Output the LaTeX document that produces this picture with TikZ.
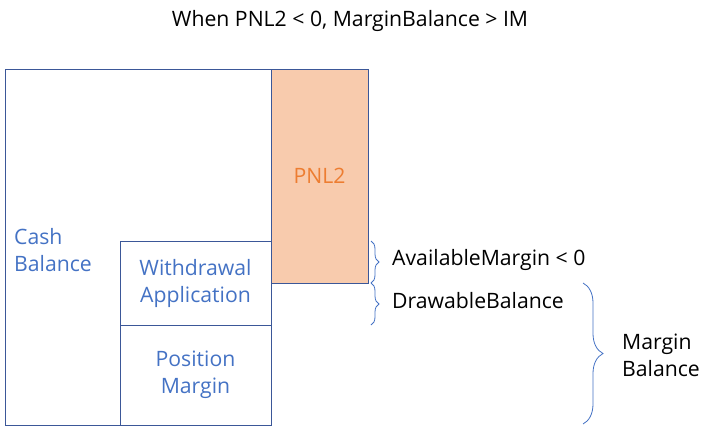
\documentclass[tikz,border=0pt]{standalone}
\usepackage{fontspec}
\setmainfont{Open Sans}
\usetikzlibrary{positioning,decorations.pathreplacing}
\definecolor{edgeblue}{RGB}{59,87,152}
\definecolor{textblue}{RGB}{68,114,196}
\definecolor{pnlfill}{RGB}{248,203,173}
\definecolor{pnlorange}{RGB}{237,125,49}

\begin{document}
\begin{tikzpicture}[x=1pt, y=-1pt,
    every node/.style={font=\fontsize{21.2}{27}\selectfont},
    blockbox/.style={draw=edgeblue, line width=1pt, anchor=north west, inner sep=0pt, outer sep=0pt, align=center, text=textblue},
    bracebox/.style={draw=textblue, line width=0.8pt, decorate, decoration={brace, amplitude=#1}},
    bracebox/.default=8pt]
  \useasboundingbox (0,0) rectangle (712,426);

  % title
  \node (title) at (350,21) {When PNL2 < 0, MarginBalance > IM};

  % stacked boxes
  \node[blockbox, minimum width=266pt, minimum height=356pt] (cash) at (5,69) {};
  \node[blockbox, fill=pnlfill, text=pnlorange, minimum width=97pt, minimum height=214pt] (pnl) at (cash.north east) {PNL2};
  \node[blockbox, minimum width=151pt, minimum height=84pt] (wd) at (120,241) {Withdrawal\\Application};
  \node[blockbox, minimum width=151pt, minimum height=100pt] (pos) at (wd.south west) {Position\\Margin};
  \node[text=textblue, align=left, anchor=west, inner sep=0pt] (cashlbl) at (14,250) {Cash\\Balance};

  % braces and their labels
  \draw[bracebox] ([xshift=3pt]pnl.east |- wd.north) -- ([xshift=3pt]pnl.south east);
  \draw[bracebox] ([xshift=3pt]pnl.south east) -- ([xshift=3pt]pnl.east |- wd.south);
  \coordinate (mtop) at (583,283);
  \coordinate (mbot) at (583,424);
  \draw[bracebox=20pt] (mtop) -- (mbot);

  \node[anchor=west, inner sep=0pt] (avail) at (392,260) {AvailableMargin < 0};
  \node[anchor=west, inner sep=0pt] (drawable) at (392,301) {DrawableBalance};
  \node[anchor=west, align=left, inner sep=0pt] (mbal) at (622,355) {Margin\\Balance};
\end{tikzpicture}
\end{document}
